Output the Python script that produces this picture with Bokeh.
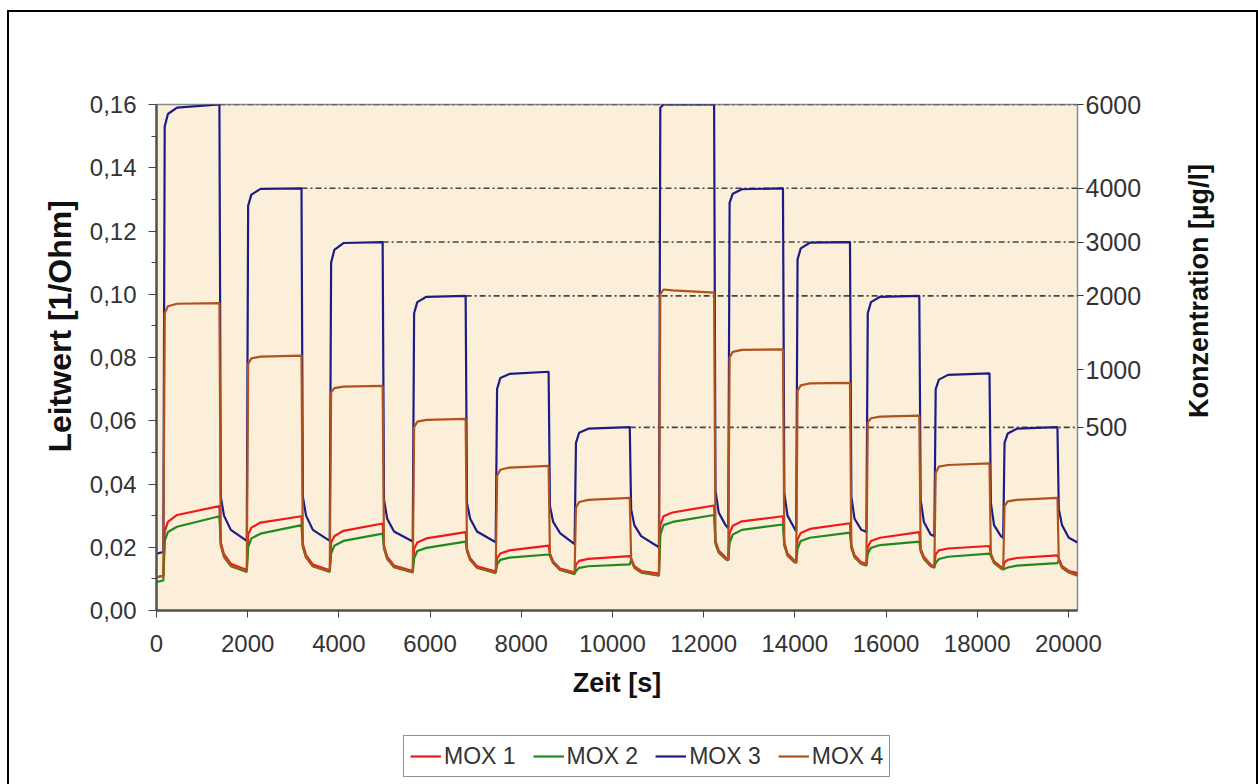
from math import pi

from bokeh.plotting import figure
from bokeh.layouts import column, row
from bokeh.models import (Range1d, LinearAxis, FixedTicker, Legend, LegendItem,
                          Label, ColumnDataSource)
from bokeh.embed import file_html
from bokeh.resources import INLINE

# ---------------------------------------------------------------------------
# Measurement data: conductance of four MOX sensors during 12 gas pulses.
# Each cycle lists 8 vertices: pulse on, rise, knee, plateau, pulse off,
# drop, decay, late decay.
# ---------------------------------------------------------------------------
t_start = [0]
t_cycles = [
    [150, 180, 250, 450, 1380, 1410, 1480, 1630],
    [1980, 2010, 2080, 2280, 3180, 3210, 3280, 3430],
    [3800, 3830, 3900, 4100, 4960, 4990, 5060, 5210],
    [5620, 5650, 5720, 5920, 6780, 6810, 6880, 7030],
    [7440, 7470, 7540, 7740, 8600, 8630, 8700, 8850],
    [9170, 9200, 9270, 9470, 10380, 10410, 10480, 10630],
    [11020, 11050, 11120, 11320, 12230, 12260, 12330, 12480],
    [12540, 12570, 12640, 12840, 13740, 13770, 13840, 13990],
    [14030, 14060, 14130, 14330, 15210, 15240, 15310, 15460],
    [15570, 15600, 15670, 15870, 16730, 16760, 16830, 16980],
    [17060, 17090, 17160, 17360, 18270, 18300, 18370, 18520],
    [18570, 18600, 18670, 18870, 19760, 19790, 19860, 20010],
]
t_end = [20200]

mox1_start = [0.0105]
mox1_cycles = [
    [0.0110, 0.0250, 0.0280, 0.0302, 0.0330, 0.0215, 0.0178, 0.0148],
    [0.0128, 0.0240, 0.0262, 0.0278, 0.0298, 0.0210, 0.0175, 0.0145],
    [0.0127, 0.0215, 0.0235, 0.0252, 0.0275, 0.0205, 0.0170, 0.0142],
    [0.0125, 0.0195, 0.0215, 0.0228, 0.0248, 0.0195, 0.0165, 0.0140],
    [0.0123, 0.0165, 0.0180, 0.0190, 0.0205, 0.0180, 0.0155, 0.0133],
    [0.0120, 0.0145, 0.0157, 0.0163, 0.0172, 0.0165, 0.0140, 0.0125],
    [0.0117, 0.0270, 0.0298, 0.0310, 0.0332, 0.0220, 0.0190, 0.0168],
    [0.0163, 0.0245, 0.0268, 0.0282, 0.0298, 0.0215, 0.0180, 0.0158],
    [0.0155, 0.0225, 0.0245, 0.0258, 0.0276, 0.0205, 0.0175, 0.0152],
    [0.0148, 0.0200, 0.0220, 0.0230, 0.0248, 0.0195, 0.0170, 0.0145],
    [0.0140, 0.0178, 0.0190, 0.0196, 0.0204, 0.0180, 0.0155, 0.0138],
    [0.0135, 0.0152, 0.0160, 0.0166, 0.0174, 0.0165, 0.0140, 0.0125],
]
mox1_end = [0.0118]

mox2_start = [0.0090]
mox2_cycles = [
    [0.0095, 0.0220, 0.0248, 0.0265, 0.0298, 0.0205, 0.0170, 0.0140],
    [0.0122, 0.0200, 0.0228, 0.0243, 0.0270, 0.0200, 0.0168, 0.0140],
    [0.0122, 0.0180, 0.0205, 0.0220, 0.0243, 0.0195, 0.0163, 0.0137],
    [0.0120, 0.0165, 0.0188, 0.0198, 0.0218, 0.0188, 0.0160, 0.0135],
    [0.0118, 0.0145, 0.0160, 0.0167, 0.0177, 0.0173, 0.0150, 0.0128],
    [0.0115, 0.0125, 0.0135, 0.0140, 0.0146, 0.0160, 0.0135, 0.0120],
    [0.0110, 0.0240, 0.0270, 0.0280, 0.0302, 0.0210, 0.0183, 0.0163],
    [0.0158, 0.0215, 0.0240, 0.0255, 0.0272, 0.0205, 0.0173, 0.0153],
    [0.0150, 0.0195, 0.0220, 0.0230, 0.0246, 0.0198, 0.0168, 0.0147],
    [0.0142, 0.0180, 0.0198, 0.0207, 0.0218, 0.0188, 0.0163, 0.0140],
    [0.0135, 0.0150, 0.0163, 0.0170, 0.0180, 0.0173, 0.0150, 0.0133],
    [0.0130, 0.0132, 0.0136, 0.0142, 0.0150, 0.0160, 0.0135, 0.0120],
]
mox2_end = [0.0110]

mox3_start = [0.0180]
mox3_cycles = [
    [0.0185, 0.1530, 0.1570, 0.1590, 0.1600, 0.0360, 0.0300, 0.0255],
    [0.0220, 0.1280, 0.1315, 0.1333, 0.1335, 0.0360, 0.0300, 0.0255],
    [0.0220, 0.1100, 0.1140, 0.1162, 0.1165, 0.0350, 0.0290, 0.0250],
    [0.0218, 0.0940, 0.0975, 0.0992, 0.0995, 0.0340, 0.0290, 0.0250],
    [0.0216, 0.0700, 0.0735, 0.0748, 0.0755, 0.0330, 0.0280, 0.0245],
    [0.0210, 0.0530, 0.0562, 0.0575, 0.0580, 0.0320, 0.0270, 0.0235],
    [0.0200, 0.1590, 0.1600, 0.1600, 0.1600, 0.0380, 0.0310, 0.0270],
    [0.0260, 0.1290, 0.1318, 0.1332, 0.1335, 0.0370, 0.0300, 0.0260],
    [0.0250, 0.1110, 0.1145, 0.1163, 0.1165, 0.0360, 0.0290, 0.0255],
    [0.0248, 0.0940, 0.0975, 0.0992, 0.0995, 0.0350, 0.0280, 0.0240],
    [0.0235, 0.0700, 0.0730, 0.0745, 0.0750, 0.0340, 0.0270, 0.0235],
    [0.0230, 0.0530, 0.0560, 0.0575, 0.0580, 0.0320, 0.0270, 0.0230],
]
mox3_end = [0.0215]

mox4_start = [0.0105]
mox4_cycles = [
    [0.0110, 0.0940, 0.0962, 0.0970, 0.0972, 0.0210, 0.0170, 0.0142],
    [0.0125, 0.0780, 0.0797, 0.0803, 0.0806, 0.0205, 0.0168, 0.0140],
    [0.0124, 0.0690, 0.0703, 0.0708, 0.0710, 0.0200, 0.0165, 0.0138],
    [0.0122, 0.0580, 0.0597, 0.0603, 0.0606, 0.0190, 0.0160, 0.0135],
    [0.0120, 0.0425, 0.0445, 0.0452, 0.0457, 0.0175, 0.0150, 0.0130],
    [0.0117, 0.0325, 0.0343, 0.0350, 0.0356, 0.0163, 0.0137, 0.0122],
    [0.0112, 0.1000, 0.1015, 0.1012, 0.1005, 0.0215, 0.0185, 0.0165],
    [0.0160, 0.0800, 0.0818, 0.0824, 0.0826, 0.0210, 0.0176, 0.0155],
    [0.0152, 0.0695, 0.0712, 0.0718, 0.0720, 0.0200, 0.0170, 0.0148],
    [0.0145, 0.0595, 0.0608, 0.0613, 0.0616, 0.0190, 0.0165, 0.0142],
    [0.0137, 0.0435, 0.0455, 0.0460, 0.0465, 0.0175, 0.0152, 0.0135],
    [0.0132, 0.0330, 0.0345, 0.0350, 0.0356, 0.0160, 0.0137, 0.0122],
]
mox4_end = [0.0112]

series_names = ["MOX 1", "MOX 2", "MOX 3", "MOX 4"]
series_colors = ["#f01818", "#1f8a1f", "#1c1c86", "#b0521e"]

# concentration steps (right axis) and their conductance positions
conc_labels = ["6000", "4000", "3000", "2000", "1000", "500"]
conc_positions = [0.160, 0.1335, 0.1165, 0.0995, 0.0762, 0.0579]

# dashed marker lines: level and start time
marker_levels = [0.160, 0.1335, 0.1165, 0.0995, 0.0579]
marker_starts = [1380, 3180, 4960, 6780, 10380]
marker_end = 20200

y_ticks = [0.0, 0.02, 0.04, 0.06, 0.08, 0.10, 0.12, 0.14, 0.16]
y_tick_labels = ["0,00", "0,02", "0,04", "0,06", "0,08", "0,10", "0,12", "0,14", "0,16"]
y_minor_ticks = [0.01, 0.03, 0.05, 0.07, 0.09, 0.11, 0.13, 0.15]
x_ticks = [0, 2000, 4000, 6000, 8000, 10000, 12000, 14000, 16000, 18000, 20000]

X_MAX = 20200
Y_MAX = 0.16


def flatten(start, cycles, end):
    out = list(start)
    for c in cycles:
        out.extend(c)
    out.extend(end)
    return out


time = flatten(t_start, t_cycles, t_end)
values = [
    flatten(mox1_start, mox1_cycles, mox1_end),
    flatten(mox2_start, mox2_cycles, mox2_end),
    flatten(mox3_start, mox3_cycles, mox3_end),
    flatten(mox4_start, mox4_cycles, mox4_end),
]

FONT = "Liberation Sans"
MAIN_H = 708

# ---------------------------------------------------------------- main chart
p = figure(frame_width=921, frame_height=506, output_backend="svg",
           toolbar_location=None,
           x_range=Range1d(0, X_MAX), y_range=Range1d(0, Y_MAX),
           min_border_left=147, min_border_right=75,
           min_border_top=92, min_border_bottom=110)
p.background_fill_color = "#fcefd9"
p.border_fill_color = "white"
p.outline_line_color = "#8a8a8a"
p.outline_line_width = 1.5
p.xgrid.visible = False
p.ygrid.visible = False

# x axis
xa = p.xaxis[0]
xa.ticker = FixedTicker(ticks=x_ticks, minor_ticks=[])
xa.axis_line_color = "#555555"
xa.axis_line_width = 2.5
xa.major_tick_line_color = "#444444"
xa.major_tick_in = 0
xa.major_tick_out = 7
xa.minor_tick_line_color = None
xa.major_label_standoff = 17
xa.major_label_text_font = FONT
xa.major_label_text_font_size = "24px"
xa.major_label_text_color = "#333333"
xa.axis_label = "Zeit [s]"
xa.axis_label_standoff = 13
xa.axis_label_text_font = FONT
xa.axis_label_text_font_size = "27px"
xa.axis_label_text_font_style = "bold"
xa.axis_label_text_color = "#111111"

# left axis; leading no-break spaces lift the title toward the top
ya = p.yaxis[0]
ya.ticker = FixedTicker(ticks=y_ticks, minor_ticks=y_minor_ticks)
ya.major_label_overrides = dict(zip(y_ticks, y_tick_labels))
ya.axis_line_color = "#555555"
ya.axis_line_width = 2.5
ya.major_tick_line_color = "#444444"
ya.major_tick_in = 0
ya.major_tick_out = 8
ya.minor_tick_line_color = "#444444"
ya.minor_tick_in = 0
ya.minor_tick_out = 5
ya.major_label_standoff = 12
ya.major_label_text_font = FONT
ya.major_label_text_font_size = "24px"
ya.major_label_text_color = "#333333"
ya.axis_label = "\u00a0" * 7 + "Leitwert [1/Ohm]"
ya.axis_label_standoff = 9
ya.axis_label_text_font = FONT
ya.axis_label_text_font_size = "32px"
ya.axis_label_text_font_style = "bold"
ya.axis_label_text_color = "#111111"

# right axis: concentration steps
ra = LinearAxis(ticker=FixedTicker(ticks=conc_positions, minor_ticks=[]))
ra.major_label_overrides = dict(zip(conc_positions, conc_labels))
ra.axis_line_color = None
ra.major_tick_line_color = "#333333"
ra.major_tick_in = 0
ra.major_tick_out = 6
ra.major_label_standoff = 2
ra.major_label_text_font = FONT
ra.major_label_text_font_size = "25px"
ra.major_label_text_color = "#333333"
p.add_layout(ra, "right")

# dashed marker lines of the concentration steps
msrc = ColumnDataSource(dict(x0=marker_starts, x1=[marker_end] * len(marker_starts),
                             y=marker_levels))
p.segment(x0="x0", y0="y", x1="x1", y1="y", source=msrc,
          line_color="#444444", line_width=1.6, line_dash="6 3 2 3")

# sensor curves
for vals, color in zip(values, series_colors):
    p.line(time, vals, line_color=color, line_width=2.2)


def blank(width, height, xr, yr):
    f = figure(width=width, height=height, output_backend="svg",
               toolbar_location=None, x_axis_location=None, y_axis_location=None,
               min_border=0, x_range=Range1d(*xr), y_range=Range1d(*yr))
    f.outline_line_color = None
    f.background_fill_color = "white"
    f.border_fill_color = "white"
    f.grid.visible = False
    return f


# ------------------------------------------------- right-hand axis title
rt = blank(104, MAIN_H, (0, 104), (0, MAIN_H))
rt.add_layout(Label(x=46, y=447, angle=pi / 2, text="Konzentration [µg/l]",
                    text_align="center", text_baseline="middle",
                    text_font=FONT, text_font_size="27px",
                    text_font_style="bold", text_color="#111111"))

# ------------------------------------------------------------------ legend
# swatch lines lie outside the visible range; only their legend glyphs show
lf = blank(1247, 80, (0, 1), (0, 1))
swatches = [lf.line(x=[-2, -1], y=[-2, -1], line_color=c, line_width=2.2)
            for c in series_colors]
legend = Legend(items=[LegendItem(label=n, renderers=[r])
                       for n, r in zip(series_names, swatches)],
                orientation="horizontal", location=(394, 23))
legend.label_text_font = FONT
legend.label_text_font_size = "23px"
legend.label_text_color = "#333333"
legend.border_line_color = "#222222"
legend.border_line_width = 1.5
legend.background_fill_color = "white"
legend.background_fill_alpha = 1.0
legend.glyph_width = 31
legend.glyph_height = 28
legend.label_height = 28
legend.label_standoff = 3
legend.spacing = 17
legend.padding = 6
legend.margin = 0
lf.add_layout(legend, "center")

# outer frame around the whole chart
layout = column(row(p, rt), lf, margin=(10, 0, 0, 7),
                styles={"border": "2px solid black"})

open("out.html", "w").write(file_html(layout, INLINE))
